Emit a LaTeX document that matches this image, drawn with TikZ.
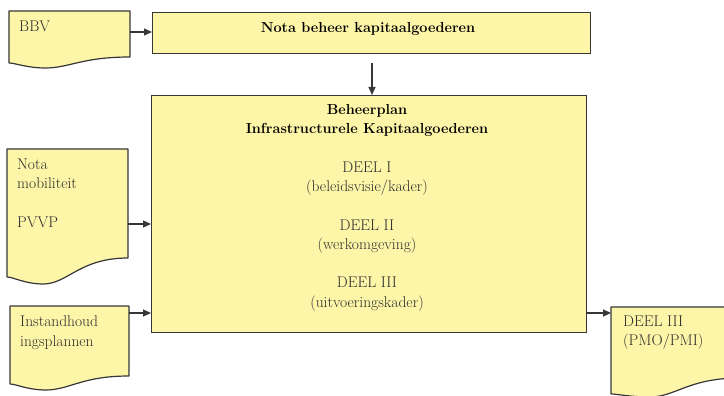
\documentclass[tikz,border=0pt]{standalone}
\usetikzlibrary{arrows.meta}
\definecolor{docyellow}{RGB}{253,245,167}
\definecolor{edgegray}{RGB}{55,55,55}
\definecolor{txtgray}{RGB}{45,45,45}
\tikzset{
  docfill/.style={fill=docyellow, draw=edgegray, line width=1.2pt, line join=round},
  boxnode/.style={fill=docyellow, draw=edgegray, line width=1.2pt, inner sep=0pt, anchor=north west},
  txt/.style={font=\fontsize{15.5}{19.2}\selectfont, text=txtgray, inner sep=0pt},
  boldtxt/.style={font=\fontsize{14.5}{19.2}\selectfont\bfseries, text=black, inner sep=0pt},
  arr/.style={draw=edgegray, line width=1.2pt, -{Triangle[length=8pt,width=7pt]}},
}
\newcommand\docshape[7]{%
  \path[docfill] (#2,#3) -- (#4,#3) -- (#4,#5)
    .. controls ({#2+0.6*(#4-#2)},#5) and ({#2+0.5*(#4-#2)},#7) .. ({#2+0.3*(#4-#2)},#7)
    .. controls ({#2+0.15*(#4-#2)},#7) and ({#2+0.05*(#4-#2)},#6) .. (#2,#6) -- cycle;
  \node[inner sep=0pt, minimum width={(#4-#2)*1pt}, minimum height={(#5-#3)*1pt}, anchor=north west] (#1) at (#2,#3) {};
}
\begin{document}
\begin{tikzpicture}[x=1pt,y=-1pt]
\useasboundingbox (0,0) rectangle (724,396);
\begin{scope}
\clip (0,0) rectangle (724,396);
% documents
\docshape{bbv}{9}{11}{130}{57}{63}{68}
\docshape{mob}{7}{149}{128}{258}{277}{284}
\docshape{inst}{10}{306}{129}{376}{384}{390}
\docshape{deel}{611}{307}{740}{378}{394}{397}
\end{scope}
% boxes
\node[boxnode, minimum width=438pt, minimum height=41pt] (nota) at (152,12) {};
\node[boxnode, minimum width=435pt, minimum height=237pt] (main) at (151,95) {};
% texts
\node[txt, anchor=north west] (bbvt) at (19,21) {BBV};
\node[txt, anchor=north west, align=left] (mobt) at (17,159) {Nota\\mobiliteit\\[19.2pt]PVVP};
\node[txt, anchor=north west, align=left] (instt) at (20,316) {Instandhoud\\ingsplannen};
\node[txt, anchor=north west, align=left] (deelt) at (623,316) {DEEL III\\(PMO/PMI)};
\node[boldtxt, anchor=north] (notat) at (368,22) {Nota beheer kapitaalgoederen};
\node[boldtxt, anchor=north, align=center] (maint1) at (367,104) {Beheerplan\\Infrastructurele Kapitaalgoederen};
\node[txt, anchor=north, align=center] (maint2) at (367,162) {DEEL I\\(beleidsvisie/kader)\\[19.2pt]DEEL II\\(werkomgeving)\\[19.2pt]DEEL III\\(uitvoeringskader)};
% connectors
\draw[arr] (bbv.east |- 0,32) -- (nota.west |- 0,32);
\draw[arr] (nota.south -| 372,0) ++(0,9) -- (main.north -| 372,0);
\draw[arr] (mob.east |- 0,224) -- (main.west |- 0,224);
\draw[arr] (inst.east |- 0,313) -- (main.west |- 0,313);
\draw[arr] (main.east |- 0,313) -- (deel.west |- 0,313);
\end{tikzpicture}
\end{document}
